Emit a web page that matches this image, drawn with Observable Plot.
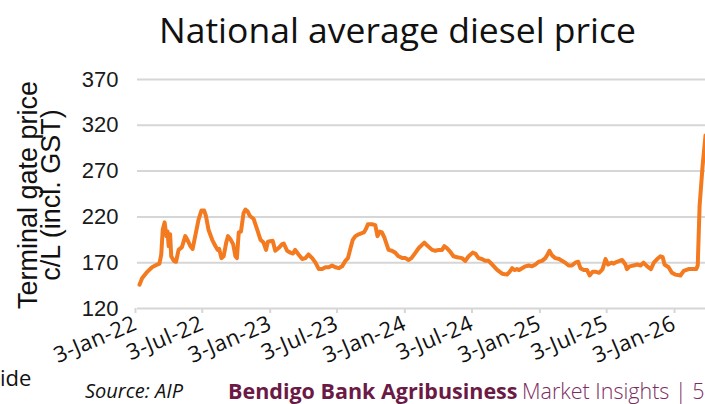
<!DOCTYPE html>
<html>
<head>
<meta charset="utf-8">
<script src="https://cdn.jsdelivr.net/npm/d3@7"></script>
<script src="https://cdn.jsdelivr.net/npm/@observablehq/plot@0.6"></script>
<style>
  html, body { margin: 0; padding: 0; background: #fff; }
  body { width: 705px; height: 404px; position: relative; overflow: hidden; font-family: "Open Sans", Lato, sans-serif; }
  #title { position: absolute; left: 0; top: 7px; width: 795px; text-align: center; font-size: 35.5px; line-height: 44px; color: #111; white-space: nowrap; }
  #chart { position: absolute; left: 0; top: 60px; }
  #chart g[aria-label="x-axis tick label"] text { letter-spacing: 0.5px; }
  #ylab { position: absolute; left: 40px; top: 195px; width: 0; height: 0; z-index: 2; }
  #ylab div { position: absolute; transform: translate(-50%, -50%) rotate(-90deg); white-space: nowrap; font-family: "Liberation Sans", Arial, sans-serif; font-size: 27px; line-height: 23px; text-align: center; color: #111; }
  #side { position: absolute; left: 0; top: 363px; font-size: 22px; line-height: 28px; color: #111; z-index: 2; }
  #footer { position: absolute; top: 378px; left: 0; width: 705px; height: 26px; line-height: 26px; white-space: nowrap; z-index: 2; }
  #src { position: absolute; left: 85px; font-style: italic; color: #111; font-size: 20px; }
  #brand { position: absolute; left: 228px; font-weight: 700; color: #6a1a45; font-size: 21.5px; }
  #mi { position: absolute; left: 522px; font-weight: 300; color: #7d2c5f; font-size: 21.5px; }
</style>
</head>
<body>
<div id="title">National average diesel price</div>
<div id="chart"></div>
<div id="ylab"><div>Terminal gate price<br>c/L (incl. GST)</div></div>
<div id="side">ide</div>
<div id="footer"><span id="src">Source: AIP</span><span id="brand">Bendigo Bank Agribusiness</span><span id="mi">Market Insights | 5</span></div>
<script>
// Weekly terminal gate diesel price, c/L
const dates = [
  "2022-01-03","2022-01-10","2022-01-24","2022-02-06","2022-02-20","2022-02-26","2022-03-03","2022-03-07","2022-03-12","2022-03-17",
  "2022-03-20","2022-03-23","2022-03-27","2022-03-30","2022-04-06","2022-04-12","2022-04-19","2022-04-28","2022-05-07","2022-05-13",
  "2022-05-21","2022-05-27","2022-06-03","2022-06-12","2022-06-20","2022-06-27","2022-07-02","2022-07-09","2022-07-19","2022-07-28",
  "2022-08-03","2022-08-07","2022-08-13","2022-08-19","2022-08-26","2022-08-31","2022-09-06","2022-09-14","2022-09-20","2022-09-24",
  "2022-09-29","2022-10-05","2022-10-12","2022-10-17","2022-10-23","2022-10-29","2022-11-08","2022-11-18","2022-11-27","2022-12-05",
  "2022-12-12","2022-12-17","2022-12-30","2023-01-06","2023-01-15","2023-01-24","2023-01-29","2023-02-07","2023-02-16","2023-02-23",
  "2023-03-01","2023-03-10","2023-03-20","2023-03-29","2023-04-06","2023-04-16","2023-04-25","2023-05-04","2023-05-13","2023-05-22",
  "2023-05-31","2023-06-09","2023-06-18","2023-06-27","2023-07-06","2023-07-15","2023-07-22","2023-07-29","2023-08-04","2023-08-11",
  "2023-08-20","2023-09-03","2023-09-09","2023-09-14","2023-09-25","2023-10-04","2023-10-10","2023-10-16","2023-10-22","2023-10-29",
  "2023-11-09","2023-11-18","2023-11-27","2023-12-06","2023-12-17","2023-12-25","2024-01-02","2024-01-10","2024-01-21","2024-01-30",
  "2024-02-09","2024-02-14","2024-02-21","2024-03-06","2024-03-15","2024-03-24","2024-04-02","2024-04-08","2024-04-15","2024-04-24",
  "2024-05-03","2024-05-13","2024-05-26","2024-06-04","2024-06-13","2024-06-24","2024-07-01","2024-07-10","2024-07-19","2024-07-28",
  "2024-08-06","2024-08-16","2024-08-25","2024-09-02","2024-09-12","2024-09-25","2024-10-02","2024-10-09","2024-10-15","2024-10-22",
  "2024-10-28","2024-11-05","2024-11-14","2024-11-23","2024-12-02","2024-12-11","2024-12-20","2024-12-29","2025-01-07","2025-01-13",
  "2025-01-18","2025-01-25","2025-02-03","2025-02-14","2025-02-21","2025-03-02","2025-03-11","2025-03-20","2025-03-29","2025-04-06",
  "2025-04-12","2025-04-21","2025-04-30","2025-05-07","2025-05-15","2025-05-24","2025-06-02","2025-06-11","2025-06-19","2025-06-26",
  "2025-07-05","2025-07-11","2025-07-20","2025-08-03","2025-08-12","2025-08-16","2025-08-23","2025-09-03","2025-09-13","2025-09-22",
  "2025-09-30","2025-10-10","2025-10-20","2025-10-28","2025-11-06","2025-11-15","2025-11-21","2025-11-26","2025-12-07","2025-12-16",
  "2025-12-25","2026-01-08","2026-01-17","2026-01-30","2026-02-11","2026-02-20","2026-02-24","2026-03-01","2026-03-09","2026-03-17"
];
const prices = [
  146,153,160,165,168,169,179,206,214,199,
  204,188,201,177,172,171,184,187,199,195,
  188,185,199,217,227,227,221,206,195,188,
  184,185,175,177,192,199,196,190,177,175,
  203,204,224,228,226,221,218,206,195,192,
  184,193,194,183,186,190,191,183,181,180,
  184,179,174,175,179,175,170,163,163,165,
  165,167,165,164,166,172,175,186,195,199,
  201,203,207,212,212,211,199,204,203,197,
  184,183,181,177,175,175,173,175,181,186,
  190,192,189,184,183,184,184,188,186,182,
  177,176,175,172,177,181,180,175,174,172,
  172,168,164,161,158,157,160,164,162,163,
  162,164,166,167,166,168,171,172,175,179,
  183,178,175,174,172,170,167,167,170,171,
  164,162,162,156,160,160,159,163,174,168,
  170,169,171,173,168,163,166,167,168,167,
  170,166,163,170,174,177,176,168,165,159,
  157,156,161,163,163,163,167,232,275,309
];
const yTicks = [120, 170, 220, 270, 320, 370];
const xTickLabels = ["2022-01-03","2022-07-03","2023-01-03","2023-07-03","2024-01-03","2024-07-03","2025-01-03","2025-07-03","2026-01-03"];
const xDomain = ["2022-01-03", "2026-03-17"];

const data = dates.map((d, i) => ({date: new Date(d), value: prices[i]}));
const xTicks = xTickLabels.map(d => new Date(d));
const fmt = d3.utcFormat("%-d-%b-%y");

const chart = Plot.plot({
  width: 705,
  height: 318,
  marginLeft: 137,
  marginRight: 0,
  marginTop: 19,
  marginBottom: 70,
  style: {background: "transparent", overflow: "visible", fontFamily: "'Open Sans', sans-serif"},
  x: {type: "utc", domain: xDomain.map(d => new Date(d)), range: [139, 705]},
  y: {domain: [120, 370]},
  marks: [
    Plot.gridY(yTicks, {stroke: "#d6d6d6", strokeOpacity: 1, strokeWidth: 2}),
    Plot.axisY(yTicks, {tickSize: 0, tickPadding: 19, fontSize: 22, fontFamily: "Liberation Sans, Arial, sans-serif", fill: "#1a1a1a", label: null}),
    Plot.axisX(xTicks, {tickFormat: fmt, tickRotate: -23, tickSize: 5, tickPadding: 9, dx: -4, fontSize: 22, fontFamily: "'Open Sans', sans-serif", stroke: "#d6d6d6", strokeWidth: 2, fill: "#111", label: null}),
    Plot.line(data, {x: "date", y: "value", stroke: "#F47A20", strokeWidth: 4, strokeLinejoin: "round", strokeLinecap: "round"})
  ]
});
document.getElementById("chart").appendChild(chart);
</script>
</body>
</html>
